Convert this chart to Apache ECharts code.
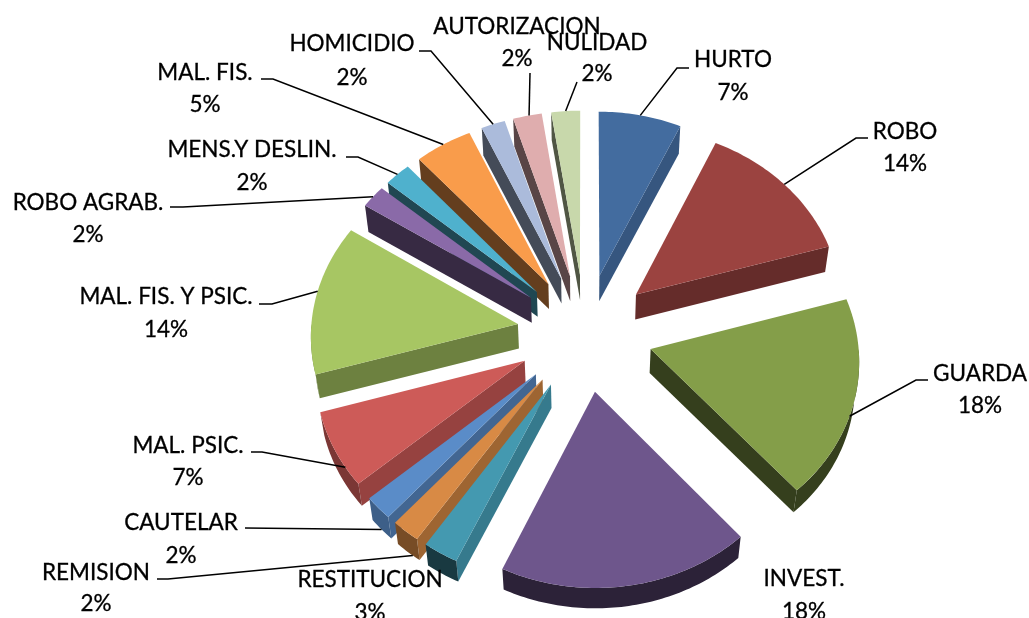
<!DOCTYPE html>
<html>
<head>
<meta charset="utf-8">
<style>
  html, body { margin: 0; padding: 0; background: #fff; overflow: hidden; }
  #chart { width: 1029px; height: 618px; }
</style>
<script src="https://cdn.jsdelivr.net/npm/echarts@6/dist/echarts.min.js"></script>
</head>
<body>
<div id="chart"></div>
<script>
// chart data, clockwise from 12 o'clock
const categories = ['HURTO', 'ROBO', 'GUARDA', 'INVEST.', 'RESTITUCION', 'REMISION', 'CAUTELAR', 'MAL. PSIC.',
  'MAL. FIS. Y PSIC.', 'ROBO AGRAB.', 'MENS.Y DESLIN.', 'MAL. FIS.', 'HOMICIDIO', 'AUTORIZACION', 'NULIDAD']
const sliceValues = [6.9, 13.6, 18, 18.4, 2.6, 2.1, 2.1, 6.8, 13.6, 2.1, 2.2, 4.8, 2, 2.4, 2.4]

// styles
const sliceColors = ['#436C9F', '#9B4340', '#849E49', '#6E568C', '#4499B0', '#D88A45', '#5A8CC8', '#CD5B58',
  '#A7C663', '#8A6AA8', '#4FB1CD', '#F99C4B', '#ABBBDB', '#DFADAE', '#C8D8AB']
const outerShade = [0.8, 0.68, 0.4, 0.4, 0.37, 0.55, 0.68, 0.6, 0.63, 0.4, 0.4, 0.4, 0.4, 0.4, 0.4]

// label layout: text centre x, first line y, second line y, leader start and elbow, where it meets the arc (0-1)
const labelLayout = [
  { x: 733, y1: 60, y2: 93, from: [689, 68], elbow: [677, 68], at: 0.5 },
  { x: 905, y1: 132, y2: 164, from: [868, 138], elbow: [856, 138], at: 0.5 },
  { x: 980, y1: 374, y2: 406, from: [928, 380], elbow: [916, 380], at: 0.58 },
  { x: 804, y1: 579, y2: 612 },
  { x: 370, y1: 580, y2: 613 },
  { x: 96, y1: 573, y2: 604, from: [157, 579], elbow: [168, 579], at: 0.3, drop: true },
  { x: 181, y1: 523, y2: 556, from: [245, 528], elbow: [245, 528], at: 0.5, drop: true },
  { x: 188, y1: 446, y2: 478, from: [251, 452], elbow: [262, 452], at: 0.25 },
  { x: 166, y1: 297, y2: 330, from: [259, 304], elbow: [272, 304], at: 0.55 },
  { x: 88, y1: 203, y2: 235, from: [170, 207], elbow: [183, 207], at: 0.5 },
  { x: 252, y1: 150, y2: 183, from: [346, 157], elbow: [358, 157], at: 0.5 },
  { x: 205, y1: 73, y2: 105, from: [261, 79], elbow: [273, 79], at: 0.5 },
  { x: 352, y1: 44, y2: 78, from: [419, 51], elbow: [431, 51], at: 0.5 },
  { x: 517, y1: 27, y2: 59, from: [530, 73], elbow: [530, 73], at: 0.56 },
  { x: 597, y1: 43, y2: 74, from: [577, 82], elbow: [577, 82], at: 0.5 }
]

// 3d projection of the tilted pie
const centerX = 585
const centerY = 332.5
const radius = 207
const explode = 68
const tilt = 0.865
const perspective = 0.00026
const vanishX = 586
const vanishY = 1900
const wallScale = 0.0155
const labelFont = '22.5px Lato'

const total = sliceValues.reduce((a, b) => a + b, 0)
let running = 0
const sliceAngles = sliceValues.map((v) => {
  const a = (running / total) * 360
  running += v
  return [a, (running / total) * 360]
})

const toRad = (deg) => (deg * Math.PI) / 180

// point on the top face: slice i, angle deg, fraction t of the radius
const topPoint = (i, deg, t) => {
  const mid = (sliceAngles[i][0] + sliceAngles[i][1]) / 2
  const x = explode * Math.sin(toRad(mid)) + t * radius * Math.sin(toRad(deg))
  const y = -explode * Math.cos(toRad(mid)) - t * radius * Math.cos(toRad(deg))
  const w = 1 / (1 - perspective * y)
  return [centerX + x * w, centerY + tilt * y * w]
}
const bottomPoint = (p) => [p[0] + (vanishX - p[0]) * wallScale, p[1] + (vanishY - p[1]) * wallScale]

const arcPoints = (i, from, to) => {
  const pts = []
  const steps = Math.max(2, Math.ceil(Math.abs(to - from)))
  for (let s = 0; s <= steps; s++) {
    pts.push(topPoint(i, from + ((to - from) * s) / steps, 1))
  }
  return pts
}

const shadeColor = (hex, f) => {
  const n = parseInt(hex.slice(1), 16)
  const c = [(n >> 16) & 255, (n >> 8) & 255, n & 255].map((v) => Math.round(v * f))
  return 'rgb(' + c.join(',') + ')'
}

// darker the more the wall faces down and to the left
const radialShade = (normal) => {
  if (normal <= 115) return 0.8
  if (normal <= 140) return 0.73
  if (normal <= 170) return 0.65
  return 0.4
}

const renderSlice = (params, api) => {
  const i = params.dataIndex
  const [a, b] = sliceAngles[i]
  const mid = (a + b) / 2
  const color = sliceColors[i]
  const apex = topPoint(i, a, 0)
  const order = Math.round(topPoint(i, mid, 0.5)[1])
  const children = []

  const radialWall = (deg, normal) => {
    const corner = topPoint(i, deg, 1)
    children.push({
      type: 'polygon',
      z2: order,
      shape: { points: [apex, corner, bottomPoint(corner), bottomPoint(apex)] },
      style: { fill: shadeColor(color, radialShade(normal)) }
    })
  }
  // only the walls that face the viewer are visible
  const startNormal = a - 90
  const endNormal = b + 90
  if (startNormal > 90 && startNormal < 270) radialWall(a, startNormal)
  if (endNormal > 90 && endNormal < 270) radialWall(b, endNormal)

  const wallFrom = Math.max(a, 90)
  const wallTo = Math.min(b, 270)
  if (wallTo > wallFrom) {
    const top = arcPoints(i, wallFrom, wallTo)
    children.push({
      type: 'polygon',
      z2: order,
      shape: { points: top.concat(top.map(bottomPoint).reverse()) },
      style: { fill: shadeColor(color, outerShade[i]) }
    })
  }

  children.push({
    type: 'polygon',
    z2: order + 1,
    shape: { points: [apex].concat(arcPoints(i, a, b)) },
    style: { fill: color }
  })

  // label and leader line
  const lay = labelLayout[i]
  if (lay.from) {
    const end = topPoint(i, a + (b - a) * lay.at, 1)
    children.push({
      type: 'polyline',
      z2: 1000,
      shape: { points: [lay.from, lay.elbow, lay.drop ? bottomPoint(end) : end] },
      style: { stroke: '#000', lineWidth: 1.5, fill: null }
    })
  }
  const pct = Math.round((api.value(0) / total) * 100) + '%'
  const textStyle = { align: 'center', verticalAlign: 'middle', font: labelFont, fill: '#000', stroke: '#000', lineWidth: 0.3 }
  children.push(
    { type: 'text', z2: 1001, style: { ...textStyle, text: categories[i], x: lay.x, y: lay.y1 } },
    { type: 'text', z2: 1001, style: { ...textStyle, text: pct, x: lay.x, y: lay.y2 } }
  )
  return { type: 'group', children }
}

const chart = echarts.init(document.getElementById('chart'))
chart.setOption({
  backgroundColor: '#fff',
  animation: false,
  series: [
    {
      type: 'custom',
      coordinateSystem: 'none',
      silent: true,
      renderItem: renderSlice,
      data: sliceValues.map((v, i) => ({ name: categories[i], value: [v] }))
    }
  ]
})
</script>
</body>
</html>
